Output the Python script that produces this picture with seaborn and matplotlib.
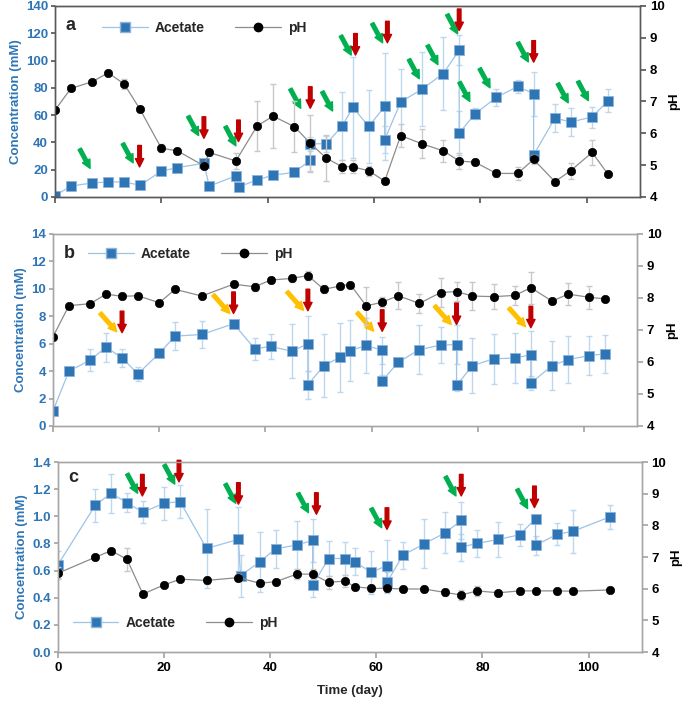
import numpy as np
import seaborn as sns
import matplotlib.pyplot as plt
from matplotlib.lines import Line2D

# ---- panel a ----
a_days = [0, 3, 7, 10, 13, 16, 20, 23, 28, 29, 34, 34.6, 38, 41, 45, 48, 48, 51, 54, 56,
          59, 62, 62, 65, 69, 73, 76, 76, 79, 83, 87, 90, 90, 94, 97, 101, 104]
a_acetate = [1, 8, 10.3, 11, 11, 8.6, 19, 21.5, 24.7, 8, 15.4, 7.5, 12.5, 16, 18, 27, 39, 39, 52, 65.7,
             51.7, 66.4, 42, 69.6, 79, 90.4, 107.6, 46.8, 61, 73, 81, 75.7, 30.9, 57.8, 55, 58.6, 70.6]
a_acetate_err = [1, 1, 1, 1, 1.5, 1.5, 2, 3, 3, 1.5, 2, 2, 2, 2, 2, 8, 5, 6, 25, 37,
                 27, 39, 10, 24.5, 27, 27, 11, 16, 4, 6, 5, 16, 3, 10.4, 10.5, 7.7, 8.6]
a_ph_days = [0, 3, 7, 10, 13, 16, 20, 23, 28, 29, 34, 38, 41, 45, 48, 51, 54, 56, 59, 62,
             65, 69, 73, 76, 79, 83, 87, 90, 94, 97, 101, 104]
a_ph = [6.73, 7.41, 7.62, 7.9, 7.55, 6.75, 5.53, 5.45, 4.98, 5.4, 5.13, 6.23, 6.54, 6.21, 5.69, 5.22,
        4.95, 4.95, 4.82, 4.5, 5.93, 5.67, 5.45, 5.13, 5.09, 4.74, 4.74, 5.18, 4.48, 4.83, 5.4, 4.71]
a_ph_err = [0.05, 0.05, 0.05, 0.08, 0.15, 0.05, 0.12, 0.08, 0.1, 0.1, 0.25, 0.8, 1.0, 0.8, 0.9, 0.73,
            0.2, 0.2, 0.15, 0.1, 0.35, 0.45, 0.35, 0.25, 0.1, 0.1, 0.2, 0.15, 0.1, 0.25, 0.4, 0.05]
a_green_x = [6.6, 14.7, 27, 34, 46.2, 52.2, 55.7, 61.6, 68.5, 72, 75.7, 78, 81.8, 89, 96.5, 100.3]
a_green_y = [21, 25, 45, 37.5, 65, 63, 104, 113, 86.7, 97, 119.6, 70, 80, 99, 69, 70.6]
a_red_x = [15.9, 28, 34.5, 48, 56.5, 62.5, 76, 90]
a_red_y = [22, 43, 40.6, 65, 104, 113, 122, 98.8]

# ---- panel b ----
b_days = [0, 3, 7, 10, 13, 16, 20, 23, 28, 34, 38, 41, 45, 48, 48, 51, 54, 56, 59, 62,
          62, 65, 69, 73, 76, 76, 79, 83, 87, 90, 90, 94, 97, 101, 104]
b_acetate = [1.1, 4.0, 4.8, 5.75, 4.96, 3.8, 5.3, 6.55, 6.67, 7.45, 5.63, 5.8, 5.45, 6.0, 3.0, 4.4, 5.0, 5.5, 5.87, 5.52,
             3.3, 4.64, 5.57, 5.89, 5.94, 2.96, 4.4, 4.9, 4.95, 5.2, 3.13, 4.4, 4.84, 5.13, 5.26]
b_acetate_err = [0.1, 0.3, 0.8, 1.05, 0.65, 0.5, 0.3, 1.0, 0.95, 0.2, 0.8, 0.9, 1.95, 2.0, 1.0, 2.3, 2.5, 2.2, 2.0, 1.0,
                 0.4, 0.25, 1.8, 1.3, 1.4, 0.4, 2.0, 1.83, 1.83, 1.7, 0.5, 1.77, 1.7, 1.43, 1.4]
b_ph_days = [0, 3, 7, 10, 13, 16, 20, 23, 28, 34, 38, 41, 45, 48, 51, 54, 56, 59, 62, 65,
             69, 73, 76, 79, 83, 87, 90, 94, 97, 101, 104]
b_ph = [6.79, 7.76, 7.82, 8.12, 8.05, 8.07, 7.85, 8.27, 8.06, 8.43, 8.35, 8.56, 8.61, 8.7, 8.27, 8.37,
        8.42, 7.75, 7.87, 8.07, 7.83, 8.17, 8.2, 8.06, 8.04, 8.08, 8.32, 7.9, 8.12, 8.02, 7.97]
b_ph_err = [0.03, 0.05, 0.05, 0.1, 0.08, 0.05, 0.05, 0.05, 0.05, 0.1, 0.12, 0.08, 0.12, 0.15, 0.12, 0.05,
            0.05, 0.6, 0.15, 0.43, 0.3, 0.45, 0.3, 0.45, 0.4, 0.3, 0.5, 0.1, 0.35, 0.35, 0.05]
b_orange_x = [12, 33.3, 47.2, 60.4, 75, 89]
b_orange_y = [6.87, 8.2, 8.43, 6.91, 7.4, 7.24]
b_red_x = [13, 34, 48, 62, 76, 90]
b_red_y = [6.8, 8.2, 8.4, 6.9, 7.4, 7.16]

# ---- panel c ----
c_days = [0, 7, 10, 13, 16, 20, 23, 28, 34, 34.4, 38, 41, 45, 48, 48, 51, 54, 56, 59, 62,
          62, 65, 69, 73, 76, 76, 79, 83, 87, 90, 90, 94, 97, 104]
c_acetate = [0.644, 1.08, 1.17, 1.10, 1.03, 1.096, 1.109, 0.763, 0.83, 0.563, 0.664, 0.76, 0.789, 0.822, 0.493,
             0.689, 0.689, 0.664, 0.587, 0.637, 0.513, 0.713, 0.797, 0.879, 0.97, 0.773, 0.8, 0.83, 0.864,
             0.982, 0.785, 0.867, 0.889, 0.995]
c_acetate_err = [0.1, 0.12, 0.145, 0.07, 0.08, 0.12, 0.12, 0.29, 0.235, 0.155, 0.22, 0.14, 0.18, 0.16, 0.09,
                 0.13, 0.12, 0.1, 0.16, 0.185, 0.08, 0.1, 0.18, 0.15, 0.136, 0.1, 0.1, 0.13, 0.08,
                 0.03, 0.07, 0.08, 0.16, 0.09]
c_ph_days = [0, 7, 10, 13, 16, 20, 23, 28, 34, 38, 41, 45, 48, 51, 54, 56, 59, 62, 65, 69,
             73, 76, 79, 83, 87, 90, 94, 97, 104]
c_ph = [6.49, 6.99, 7.2, 6.93, 5.83, 6.12, 6.3, 6.26, 6.35, 6.17, 6.22, 6.46, 6.46, 6.2, 6.24, 6.06,
        6.01, 6.01, 5.99, 5.99, 5.88, 5.8, 5.93, 5.87, 5.93, 5.93, 5.93, 5.92, 5.96]
c_ph_err = [0.2, 0.05, 0.05, 0.37, 0.05, 0.05, 0.05, 0.1, 0.1, 0.08, 0.1, 0.15, 0.15, 0.2, 0.2, 0.1,
            0.1, 0.1, 0.1, 0.1, 0.1, 0.15, 0.15, 0.05, 0.05, 0.05, 0.05, 0.05, 0.05]
c_green_x = [15, 22, 33.5, 47.2, 61, 75, 88.5]
c_green_y = [1.17, 1.237, 1.096, 1.027, 0.916, 1.15, 1.057]
c_red_x = [15.9, 22.8, 34, 48.7, 62, 76, 89.8]
c_red_y = [1.15, 1.254, 1.089, 1.015, 0.904, 1.15, 1.064]

# colours
BLUE = "#2E75B6"
BLUE_LINE = "#9DC3E6"
BLUE_ERR = "#BDD7EE"
GREY_LINE = "#8C8C8C"
GREY_ERR = "#C8C8C8"
GREEN = "#00B050"
RED = "#C00000"
ORANGE = "#FFC000"
ARROW = 'simple,head_length=0.6,head_width=0.6,tail_width=0.26'

sns.set_theme(style="white")
plt.rcParams['font.family'] = ['Liberation Sans', 'DejaVu Sans']


def draw_panel(ax, letter, days, ace, ace_err, ph_days, ph, ph_err, ymax, ystep, yfmt,
               spine_col, leg_xy, diag_x, diag_y, diag_col, diag_off, red_x, red_y, show_x):
    ax2 = ax.twinx()
    ax.errorbar(days, ace, yerr=ace_err, fmt='none', ecolor=BLUE_ERR, elinewidth=1,
                capsize=2.5, capthick=1, zorder=1)
    sns.lineplot(x=days, y=ace, ax=ax, estimator=None, sort=False, color=BLUE_LINE,
                 linewidth=0.9, marker='s', markersize=6.5, markerfacecolor=BLUE,
                 markeredgecolor="#8FB3D9", markeredgewidth=0.6, zorder=2)
    ax2.errorbar(ph_days, ph, yerr=ph_err, fmt='none', ecolor=GREY_ERR, elinewidth=1,
                 capsize=2.5, capthick=1, zorder=1)
    sns.lineplot(x=ph_days, y=ph, ax=ax2, estimator=None, sort=False, color=GREY_LINE,
                 linewidth=0.9, marker='o', markersize=6, markerfacecolor='black',
                 markeredgecolor='black', markeredgewidth=0.5, zorder=2)

    ax.set_xlim(0, 110)
    ax.set_ylim(0, ymax)
    ticks = np.arange(0, ymax + ystep / 2, ystep)
    ax.set_yticks(ticks)
    ax.set_yticklabels([yfmt.format(v) for v in ticks])
    ax2.set_ylim(4, 10)
    ax2.set_yticks(range(4, 11))
    ax.set_xticks(range(0, 101, 20))
    if not show_x:
        ax.set_xticklabels([])
    ax.set_xlabel('')

    ax.tick_params(axis='y', colors=spine_col, labelcolor=BLUE, labelsize=9.5, length=3,
                   direction='out', left=True, pad=2)
    ax.tick_params(axis='x', colors=spine_col, labelcolor='black', labelsize=9.5, length=4,
                   direction='out', bottom=True, pad=3)
    ax2.tick_params(axis='y', colors=spine_col, labelcolor='black', labelsize=9.5, length=4,
                    direction='out', right=True, pad=3)
    for lab in ax.get_yticklabels() + ax.get_xticklabels() + ax2.get_yticklabels():
        lab.set_fontweight('bold')

    for axx in (ax, ax2):
        for sp in axx.spines.values():
            sp.set_color(spine_col)
            sp.set_linewidth(1.0)

    ax.set_ylabel('Concentration (mM)', color=BLUE, fontweight='bold', fontsize=9.5, labelpad=3)
    ax2.set_ylabel('pH', color='black', fontweight='bold', fontsize=9.5, labelpad=3)

    ax.text(0.018, leg_xy[2], letter, transform=ax.transAxes, fontsize=13,
            fontweight='bold', va='center', ha='left')

    handles = [Line2D([], [], color=BLUE_LINE, lw=0.9, marker='s', markersize=6.5,
                      markerfacecolor=BLUE, markeredgecolor="#8FB3D9"),
               Line2D([], [], color=GREY_LINE, lw=0.9, marker='o', markersize=6,
                      markerfacecolor='black', markeredgecolor='black')]
    ax2.legend(handles, ['Acetate', 'pH'], loc='center left',
               bbox_to_anchor=(leg_xy[0], leg_xy[1]), ncol=2, frameon=False,
               handlelength=3.3, columnspacing=2.2, handletextpad=0.5,
               borderaxespad=0, borderpad=0,
               prop={'weight': 'bold', 'size': 10})

    for x, y in zip(diag_x, diag_y):
        ax.annotate('', xy=(x, y), xytext=diag_off, textcoords='offset points',
                    arrowprops=dict(arrowstyle=ARROW, color=diag_col, shrinkA=0, shrinkB=0,
                                    mutation_scale=10),
                    zorder=5, annotation_clip=False)
    for x, y in zip(red_x, red_y):
        ax.annotate('', xy=(x, y), xytext=(0, 15.5), textcoords='offset points',
                    arrowprops=dict(arrowstyle=ARROW, color=RED, shrinkA=0, shrinkB=0,
                                    mutation_scale=10),
                    zorder=5, annotation_clip=False)
    return ax2


fig = plt.figure(figsize=(6.85, 7.01), dpi=100)
ax_a = fig.add_axes([0.0803, 0.719, 0.854, 0.2725])
ax_b = fig.add_axes([0.0774, 0.3923, 0.8526, 0.274])
ax_c = fig.add_axes([0.0847, 0.0699, 0.852, 0.271])

draw_panel(ax_a, 'a', a_days, a_acetate, a_acetate_err, a_ph_days, a_ph, a_ph_err,
           140, 20, '{:.0f}', '#595959', (0.08, 0.885, 0.90),
           a_green_x, a_green_y, GREEN, (-7.5, 14), a_red_x, a_red_y, False)
draw_panel(ax_b, 'b', b_days, b_acetate, b_acetate_err, b_ph_days, b_ph, b_ph_err,
           14, 2, '{:.0f}', '#A6A6A6', (0.06, 0.896, 0.896),
           b_orange_x, b_orange_y, ORANGE, (-12, 13.5), b_red_x, b_red_y, False)
draw_panel(ax_c, 'c', c_days, c_acetate, c_acetate_err, c_ph_days, c_ph, c_ph_err,
           1.4, 0.2, '{:.1f}', '#A6A6A6', (0.025, 0.154, 0.92),
           c_green_x, c_green_y, GREEN, (-7.5, 14), c_red_x, c_red_y, True)
ax_c.set_xlabel('Time (day)', fontweight='bold', fontsize=9.5, labelpad=8)

fig.savefig('out.png', dpi=100)
